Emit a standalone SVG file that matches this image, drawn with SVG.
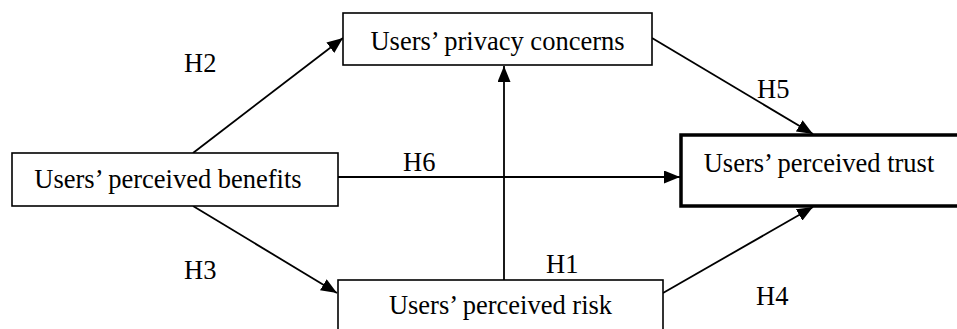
<svg xmlns="http://www.w3.org/2000/svg" width="957" height="329" viewBox="0 0 957 329">
<style>
.box{fill:#fff;stroke:#000;stroke-width:1.6}
.thick{fill:#fff;stroke:#000;stroke-width:3.5}
.lbl{font-family:"Liberation Serif","Times New Roman",serif;font-size:26.5px;fill:#000}
.edge{stroke:#000;stroke-width:1.8;fill:none;marker-end:url(#arr)}
</style>
<defs>
<marker id="arr" markerUnits="userSpaceOnUse" markerWidth="16" markerHeight="13" refX="16" refY="6.5" orient="auto">
<path d="M0,0 L16,6.5 L0,13 z" fill="#000"/>
</marker>
</defs>
<g id="connectors">
<line class="edge" x1="193" y1="153" x2="343" y2="38"/>
<line class="edge" x1="193" y1="206" x2="337" y2="293"/>
<line class="edge" x1="338" y1="177" x2="680" y2="177"/>
<line class="edge" x1="504" y1="280" x2="504" y2="66"/>
<line class="edge" x1="652" y1="38" x2="813" y2="134"/>
<line class="edge" x1="663" y1="293" x2="813" y2="207"/>
<text class="lbl" x="184" y="72">H2</text>
<text class="lbl" x="403" y="171">H6</text>
<text class="lbl" x="184" y="279">H3</text>
<text class="lbl" x="757" y="98">H5</text>
<text class="lbl" x="546" y="273">H1</text>
<text class="lbl" x="756" y="305">H4</text>
</g>
<g id="privacy">
<rect class="box" x="343" y="13" width="309" height="52"/>
<text class="lbl" x="497.5" y="50" text-anchor="middle">Users’ privacy concerns</text>
</g>
<g id="benefits">
<rect class="box" x="12" y="153" width="326" height="53"/>
<text class="lbl" x="168" y="188" text-anchor="middle">Users’ perceived benefits</text>
</g>
<g id="trust">
<rect class="thick" x="681" y="135" width="300" height="71"/>
<text class="lbl" x="819" y="172" text-anchor="middle">Users’ perceived trust</text>
</g>
<g id="risk">
<rect class="box" x="338" y="280" width="325" height="70"/>
<text class="lbl" x="500.5" y="314" text-anchor="middle">Users’ perceived risk</text>
</g>
</svg>
